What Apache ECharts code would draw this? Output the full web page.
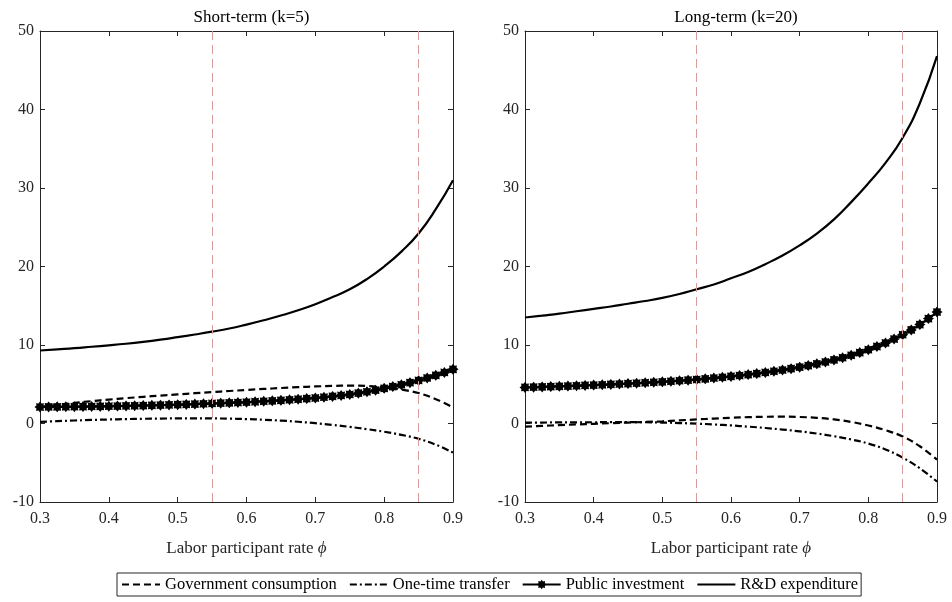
<!DOCTYPE html>
<html>
<head>
<meta charset="utf-8">
<script src="https://cdn.jsdelivr.net/npm/echarts@6/dist/echarts.min.js"></script>
<style>
  html, body { margin: 0; padding: 0; background: #fff; }
  #chart { width: 952px; height: 602px; }
</style>
</head>
<body>
<div id="chart"></div>
<script>
// x grid for the smooth curves and the denser grid of the marker series
var phiCoarse = [0.3, 0.325, 0.35, 0.375, 0.4, 0.425, 0.45, 0.475, 0.5, 0.525, 0.55, 0.575, 0.6,
                 0.625, 0.65, 0.675, 0.7, 0.725, 0.75, 0.775, 0.8, 0.825, 0.85, 0.875, 0.9];
var phiFine = [0.3, 0.3125, 0.325, 0.3375, 0.35, 0.3625, 0.375, 0.3875, 0.4, 0.4125, 0.425, 0.4375,
               0.45, 0.4625, 0.475, 0.4875, 0.5, 0.5125, 0.525, 0.5375, 0.55, 0.5625, 0.575, 0.5875,
               0.6, 0.6125, 0.625, 0.6375, 0.65, 0.6625, 0.675, 0.6875, 0.7, 0.7125, 0.725, 0.7375,
               0.75, 0.7625, 0.775, 0.7875, 0.8, 0.8125, 0.825, 0.8375, 0.85, 0.8625, 0.875, 0.8875, 0.9];

var seriesNames = ['Government consumption', 'One-time transfer', 'Public investment', 'R&D expenditure'];
var panelTitles = ['Short-term (k=5)', 'Long-term (k=20)'];
var thresholds = [0.55, 0.85];
var yTicks = [-10, 0, 10, 20, 30, 40, 50];
var xTicks = [0.3, 0.4, 0.5, 0.6, 0.7, 0.8, 0.9];

// short-term (k=5)
var govShort = [2.10, 2.38, 2.63, 2.85, 3.05, 3.23, 3.40, 3.56, 3.71, 3.86, 4.00, 4.14, 4.27,
                4.40, 4.52, 4.63, 4.72, 4.79, 4.82, 4.78, 4.62, 4.32, 3.88, 3.10, 2.05];
var transferShort = [0.20, 0.30, 0.38, 0.45, 0.51, 0.56, 0.60, 0.63, 0.65, 0.66, 0.65, 0.62, 0.56,
                     0.48, 0.37, 0.22, 0.04, -0.18, -0.43, -0.72, -1.05, -1.45, -1.95, -2.70, -3.70];
var rdShort = [9.30, 9.45, 9.60, 9.78, 9.96, 10.16, 10.40, 10.68, 11.00, 11.34, 11.70, 12.10, 12.60,
               13.15, 13.75, 14.42, 15.20, 16.10, 17.10, 18.40, 20.00, 21.90, 24.20, 27.30, 31.00];
var publicShort = [2.10, 2.11, 2.12, 2.13, 2.14, 2.15, 2.17, 2.18, 2.20, 2.22, 2.24, 2.26,
                   2.28, 2.31, 2.34, 2.37, 2.40, 2.43, 2.47, 2.51, 2.55, 2.59, 2.63, 2.67,
                   2.71, 2.77, 2.83, 2.89, 2.95, 3.02, 3.09, 3.17, 3.25, 3.35, 3.45, 3.57,
                   3.70, 3.86, 4.04, 4.25, 4.48, 4.70, 4.94, 5.20, 5.48, 5.80, 6.14, 6.50, 6.90];

// long-term (k=20)
var govLong = [-0.40, -0.30, -0.21, -0.12, -0.04, 0.04, 0.12, 0.20, 0.28, 0.40, 0.52, 0.63, 0.73,
               0.81, 0.86, 0.87, 0.83, 0.72, 0.52, 0.20, -0.25, -0.85, -1.65, -2.90, -4.60];
var transferLong = [0.10, 0.12, 0.14, 0.15, 0.16, 0.17, 0.17, 0.16, 0.12, 0.06, -0.02, -0.12, -0.25,
                    -0.40, -0.57, -0.77, -1.00, -1.28, -1.62, -2.03, -2.55, -3.30, -4.35, -5.70, -7.40];
var rdLong = [13.50, 13.75, 14.00, 14.30, 14.60, 14.90, 15.25, 15.60, 16.00, 16.50, 17.10, 17.70, 18.50,
              19.30, 20.30, 21.40, 22.70, 24.20, 26.00, 28.20, 30.60, 33.20, 36.40, 40.80, 46.80];
var publicLong = [4.60, 4.63, 4.66, 4.70, 4.73, 4.77, 4.81, 4.85, 4.89, 4.93, 4.98, 5.03,
                  5.08, 5.13, 5.19, 5.25, 5.31, 5.38, 5.45, 5.52, 5.60, 5.69, 5.79, 5.89,
                  6.00, 6.11, 6.23, 6.36, 6.50, 6.65, 6.81, 6.99, 7.18, 7.38, 7.60, 7.84,
                  8.10, 8.38, 8.69, 9.03, 9.40, 9.81, 10.26, 10.76, 11.31, 11.92, 12.60, 13.36, 14.20];

var chart = echarts.init(document.getElementById('chart'));

var serif = 'Liberation Serif';
var axisColor = '#262626';
// thick 8-armed asterisk, like the matlab '*' marker
var star = 'path://M10 0L6.5 2.7L7.07 7.07L2.7 6.5L0 10L-2.7 6.5L-7.07 7.07L-6.5 2.7L-10 0L-6.5 -2.7L-7.07 -7.07L-2.7 -6.5L0 -10L2.7 -6.5L7.07 -7.07L6.5 -2.7Z';

function pairs(xs, ys) {
    return xs.map(function (x, i) { return [x, ys[i]]; });
}

var grids = [
    { left: 40, top: 31, width: 413, height: 471 },
    { left: 525, top: 31, width: 412, height: 471 }
];

var xAxes = [], yAxes = [];
grids.forEach(function (g, gi) {
    ['bottom', 'top'].forEach(function (pos) {
        xAxes.push({
            type: 'value', gridIndex: gi, position: pos,
            min: xTicks[0], max: xTicks[xTicks.length - 1], interval: 0.1,
            name: pos === 'bottom' ? 'Labor participant rate {i|\u03d5}' : '',
            nameLocation: 'middle', nameGap: 38,
            nameTextStyle: {
                fontFamily: serif, fontSize: 17, color: axisColor,
                rich: { i: { fontFamily: serif, fontStyle: 'italic', fontSize: 17, color: axisColor } }
            },
            axisLine: { show: true, onZero: false, lineStyle: { color: axisColor, width: 1 } },
            axisTick: { show: true, inside: true, length: 5, lineStyle: { color: axisColor } },
            axisLabel: {
                show: pos === 'bottom', margin: 9,
                fontFamily: serif, fontSize: 16, color: axisColor,
                formatter: function (v) { return v.toFixed(1); }
            },
            splitLine: { show: false }
        });
    });
    ['left', 'right'].forEach(function (pos) {
        yAxes.push({
            type: 'value', gridIndex: gi, position: pos,
            min: yTicks[0], max: yTicks[yTicks.length - 1], interval: 10,
            axisLine: { show: true, onZero: false, lineStyle: { color: axisColor, width: 1 } },
            axisTick: { show: true, inside: true, length: 5, lineStyle: { color: axisColor } },
            axisLabel: { show: pos === 'left', margin: 6, fontFamily: serif, fontSize: 16, color: axisColor },
            splitLine: { show: false }
        });
    });
});

var panels = [
    { gov: govShort, transfer: transferShort, pub: publicShort, rd: rdShort },
    { gov: govLong, transfer: transferLong, pub: publicLong, rd: rdLong }
];

var series = [];
panels.forEach(function (p, gi) {
    var xi = gi * 2, yi = gi * 2;
    series.push({
        name: seriesNames[0], type: 'line', xAxisIndex: xi, yAxisIndex: yi,
        data: pairs(phiCoarse, p.gov), smooth: 0.4, symbol: 'none',
        lineStyle: { color: '#000', width: 2.2, type: [7, 4] }, itemStyle: { color: '#000' }
    });
    series.push({
        name: seriesNames[1], type: 'line', xAxisIndex: xi, yAxisIndex: yi,
        data: pairs(phiCoarse, p.transfer), smooth: 0.4, symbol: 'none',
        lineStyle: { color: '#000', width: 2.2, type: [7, 3, 2, 3] }, itemStyle: { color: '#000' }
    });
    series.push({
        name: seriesNames[2], type: 'line', xAxisIndex: xi, yAxisIndex: yi,
        data: pairs(phiFine, p.pub), smooth: 0.3, symbol: star, symbolSize: 11, showAllSymbol: true,
        lineStyle: { color: '#000', width: 2.2 }, itemStyle: { color: '#000' }
    });
    series.push({
        name: seriesNames[3], type: 'line', xAxisIndex: xi, yAxisIndex: yi,
        data: pairs(phiCoarse, p.rd), smooth: 0.5, symbol: 'none',
        lineStyle: { color: '#000', width: 2.2 }, itemStyle: { color: '#000' },
        markLine: {
            silent: true, symbol: ['none', 'none'], label: { show: false },
            lineStyle: { color: '#ff8a8a', width: 1, type: [9, 5] },
            data: thresholds.map(function (v) { return { xAxis: v }; })
        }
    });
});

var option = {
    animation: false,
    backgroundColor: '#fff',
    title: panelTitles.map(function (t, i) {
        return {
            text: t, left: grids[i].left + grids[i].width / 2, top: 4, textAlign: 'center',
            textStyle: { fontFamily: serif, fontSize: 17, fontWeight: 'normal', color: '#000' }
        };
    }),
    legend: {
        data: seriesNames.map(function (n, i) {
            // only the public investment entry carries a marker
            return i === 2 ? { name: n } : { name: n, itemStyle: { opacity: 0 } };
        }),
        left: 117, top: 573,
        itemWidth: 38, itemHeight: 12, itemGap: 12,
        padding: [3, 3, 3, 4],
        borderColor: axisColor, borderWidth: 1,
        textStyle: { fontFamily: serif, fontSize: 16.5, color: '#000' }
    },
    grid: grids,
    xAxis: xAxes,
    yAxis: yAxes,
    series: series
};

chart.setOption(option);
</script>
</body>
</html>
